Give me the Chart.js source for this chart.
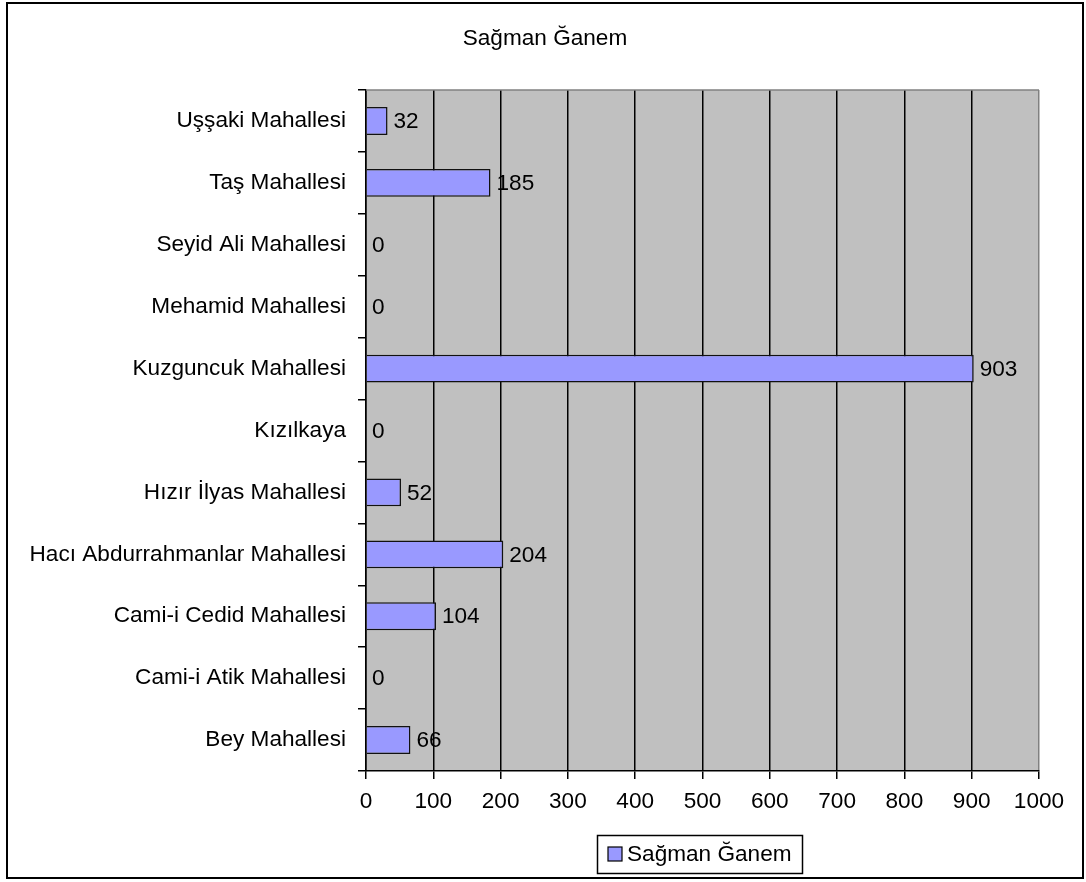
<!DOCTYPE html>
<html>
<head>
<meta charset="utf-8">
<script src="https://cdn.jsdelivr.net/npm/chart.js@4/dist/chart.umd.min.js"></script>
<style>
  html, body { margin: 0; padding: 0; background: #fff; }
  #wrap { width: 1086px; height: 882px; }
</style>
</head>
<body>
<div id="wrap"><canvas id="chart" width="1086" height="882"></canvas></div>
<script>
// verileri yukarıda tut
const categories = [
    'Uşşaki Mahallesi',
    'Taş Mahallesi',
    'Seyid Ali Mahallesi',
    'Mehamid Mahallesi',
    'Kuzguncuk Mahallesi',
    'Kızılkaya',
    'Hızır İlyas Mahallesi',
    'Hacı Abdurrahmanlar Mahallesi',
    'Cami-i Cedid Mahallesi',
    'Cami-i Atik Mahallesi',
    'Bey Mahallesi'
];
const sagmanGanem = [32, 185, 0, 0, 903, 0, 52, 204, 104, 0, 66];
const xTicks = [0, 100, 200, 300, 400, 500, 600, 700, 800, 900, 1000];
const seriesName = 'Sağman Ğanem';

const FONT = "'Liberation Sans', Arial, sans-serif";
const FS = 22.6;

// çerçeve, gri arka plan ve lejant
const decorPlugin = {
    id: 'decor',
    beforeDraw(chart) {
        const { ctx, chartArea: a } = chart;
        ctx.save();
        ctx.fillStyle = '#fff';
        ctx.fillRect(0, 0, chart.width, chart.height);
        ctx.fillStyle = '#C0C0C0';
        ctx.fillRect(a.left, a.top, a.right - a.left, a.bottom - a.top);
        ctx.restore();
    },
    afterDraw(chart) {
        const { ctx, chartArea: a } = chart;
        ctx.save();
        // üst kenar gri
        ctx.strokeStyle = '#808080';
        ctx.lineWidth = 1.5;
        ctx.beginPath();
        ctx.moveTo(a.left, a.top);
        ctx.lineTo(a.right, a.top);
        ctx.stroke();

        // dış çerçeve
        ctx.strokeStyle = '#000';
        ctx.lineWidth = 2;
        ctx.strokeRect(7, 3, 1076, 875);

        // lejant
        const ds = chart.data.datasets[0];
        ctx.lineWidth = 1.5;
        ctx.strokeRect(597.5, 835.5, 205, 38);
        ctx.fillStyle = ds.backgroundColor;
        ctx.fillRect(608, 847, 14, 14);
        ctx.strokeStyle = '#000';
        ctx.lineWidth = 1.2;
        ctx.strokeRect(608, 847, 14, 14);
        ctx.fillStyle = '#000';
        ctx.font = FS + 'px ' + FONT;
        ctx.textBaseline = 'middle';
        ctx.textAlign = 'left';
        ctx.fillText(ds.label, 627, 855);
        ctx.restore();
    }
};

// çubuk sonundaki değer etiketleri
const valueLabels = {
    id: 'valueLabels',
    afterDatasetsDraw(chart) {
        const { ctx } = chart;
        const meta = chart.getDatasetMeta(0);
        const data = chart.data.datasets[0].data;
        ctx.save();
        ctx.fillStyle = '#000';
        ctx.font = FS + 'px ' + FONT;
        ctx.textBaseline = 'middle';
        ctx.textAlign = 'left';
        meta.data.forEach((bar, i) => {
            ctx.fillText(String(data[i]), bar.x + 6, bar.y + 1);
        });
        ctx.restore();
    }
};

const ctx = document.getElementById('chart').getContext('2d');
new Chart(ctx, {
    type: 'bar',
    data: {
        labels: categories,
        datasets: [{
            label: seriesName,
            data: sagmanGanem,
            backgroundColor: '#9999FF',
            borderColor: '#111',
            borderWidth: 1.5,
            categoryPercentage: 1,
            barPercentage: 0.45
        }]
    },
    options: {
        indexAxis: 'y',
        responsive: false,
        animation: false,
        layout: { padding: { left: 4, right: 0, top: 0, bottom: 61 } },
        plugins: {
            legend: { display: false },
            tooltip: { enabled: false },
            title: {
                display: true,
                text: seriesName,
                color: '#000',
                font: { family: FONT, size: FS, weight: 'normal', lineHeight: 1.2 },
                padding: { top: 25, bottom: 37.9 }
            }
        },
        scales: {
            x: {
                min: 0,
                max: 1000,
                afterBuildTicks: (scale) => { scale.ticks = xTicks.map(v => ({ value: v })); },
                afterFit: (scale) => { scale.height = 50; },
                ticks: {
                    color: '#000',
                    font: { family: FONT, size: FS },
                    padding: 9,
                    callback: (v) => String(v)
                },
                grid: {
                    color: (c) => (c.tick && c.tick.value === 1000 ? '#808080' : '#000'),
                    lineWidth: 1.5,
                    tickLength: 8,
                    tickColor: '#000'
                },
                border: { color: '#000', width: 1.5 }
            },
            y: {
                afterFit: (scale) => { scale.width = 362; },
                ticks: {
                    color: '#000',
                    font: { family: FONT, size: FS },
                    padding: 12
                },
                grid: {
                    offset: true,
                    drawOnChartArea: false,
                    color: '#000',
                    lineWidth: 1.5,
                    tickLength: 8
                },
                border: { color: '#000', width: 1.5 }
            },
            // sağdaki boşluk için görünmez eksen
            spacer: {
                type: 'linear',
                position: 'right',
                display: true,
                afterFit: (scale) => { scale.width = 47; },
                ticks: { display: false },
                grid: { display: false },
                border: { display: false }
            }
        }
    },
    plugins: [decorPlugin, valueLabels]
});
</script>
</body>
</html>
